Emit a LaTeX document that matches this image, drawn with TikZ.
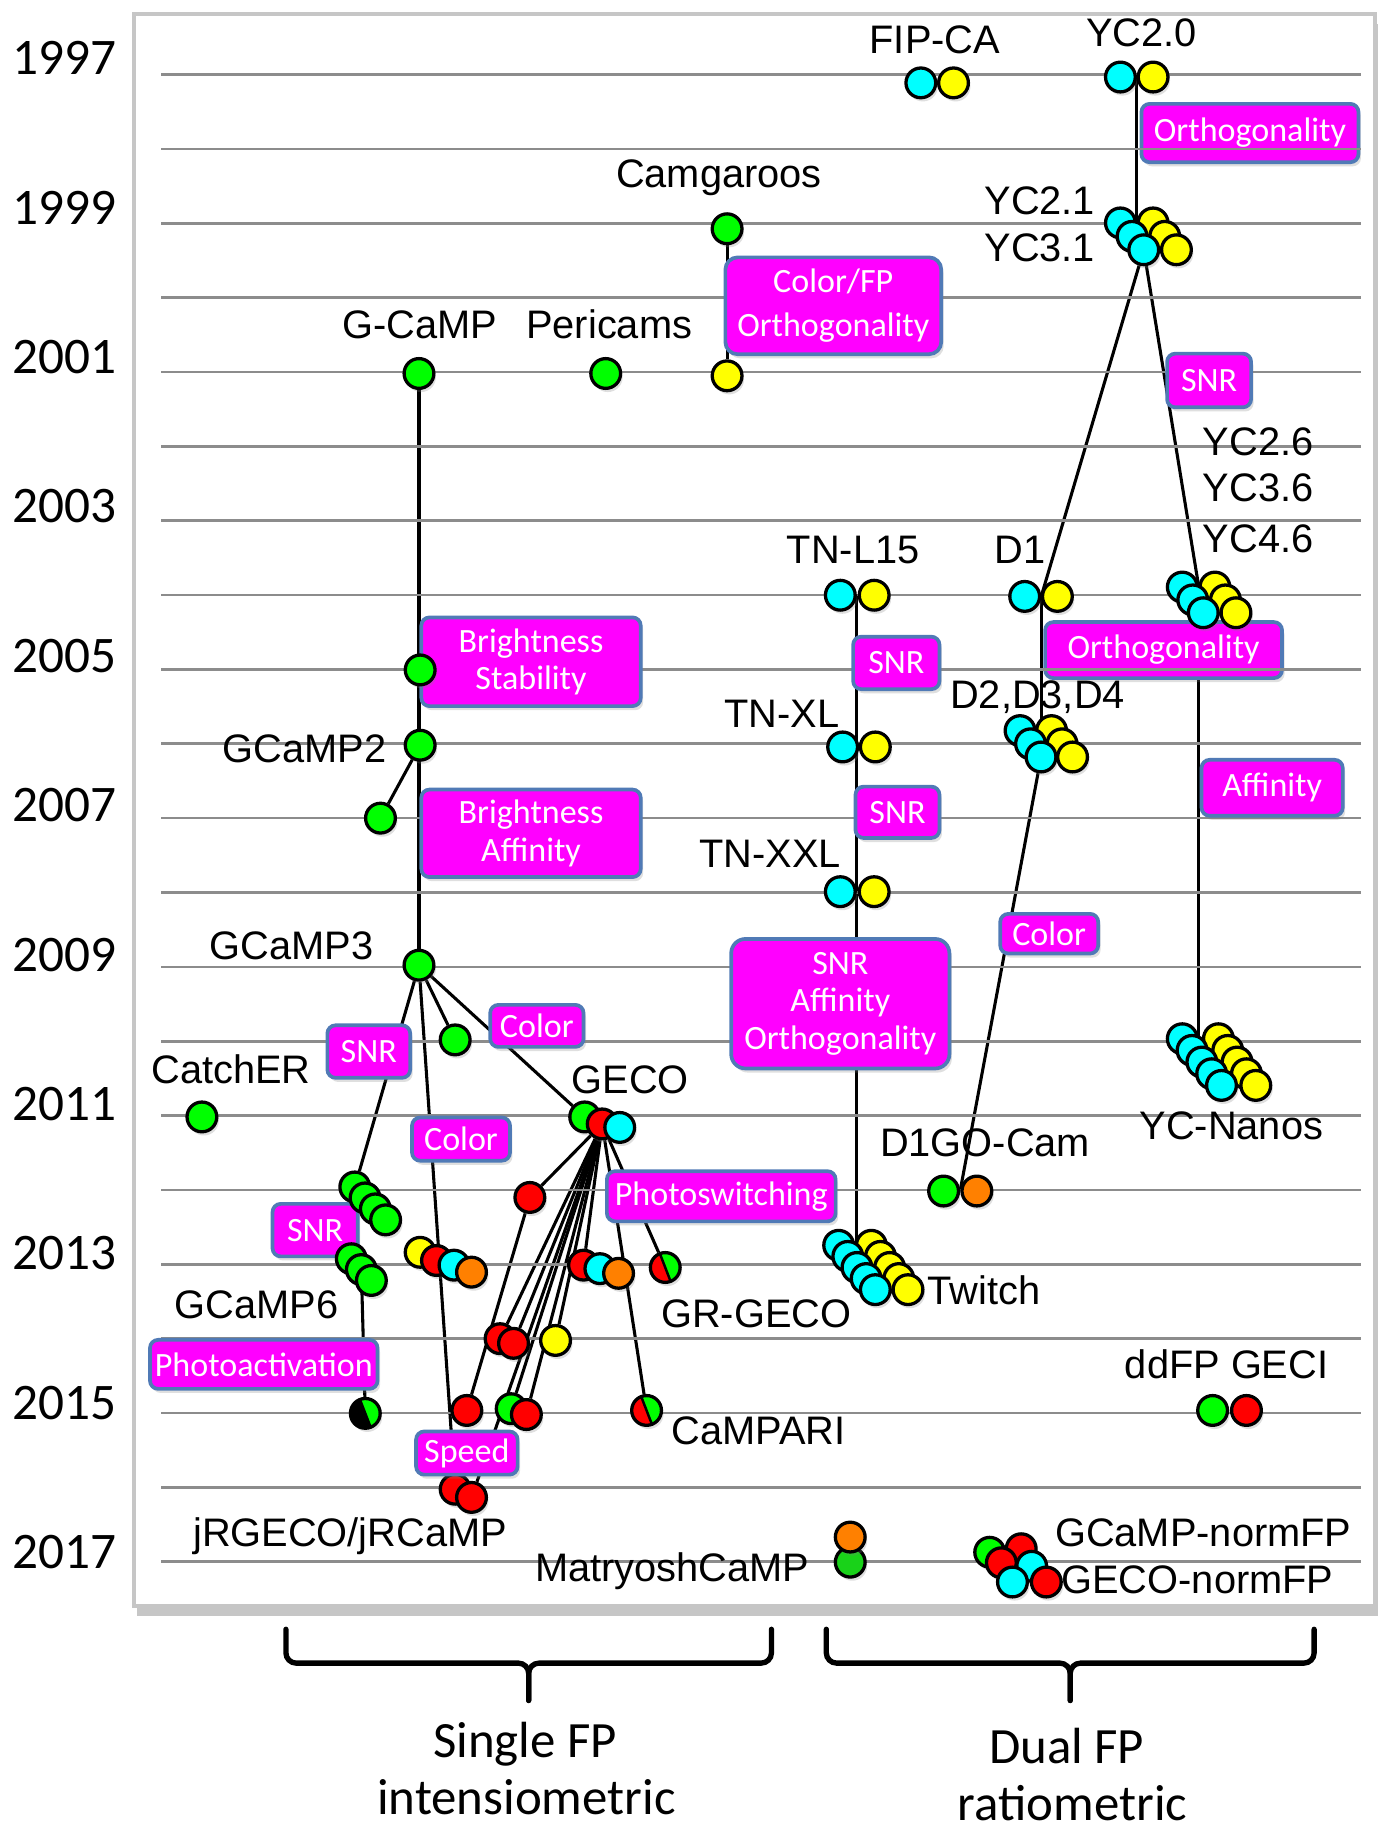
\documentclass[tikz,border=0pt]{standalone}
\usepackage{fontspec}
\setmainfont{Liberation Sans}
\newfontfamily\calib{Carlito}
\usepackage{xcolor}
\usetikzlibrary{shadows}

\definecolor{fpgreen}{RGB}{0,255,0}
\definecolor{fpdkgreen}{RGB}{25,210,25}
\definecolor{fpcyan}{RGB}{0,255,255}
\definecolor{fpyellow}{RGB}{255,255,0}
\definecolor{fpred}{RGB}{255,0,0}
\definecolor{fporange}{RGB}{255,128,0}
\definecolor{featmag}{RGB}{255,0,255}
\definecolor{featedge}{RGB}{80,122,182}
\definecolor{rulegray}{RGB}{140,140,140}

\pgfdeclarelayer{frame}
\pgfdeclarelayer{edges}
\pgfdeclarelayer{under}
\pgfdeclarelayer{rules}
\pgfsetlayers{frame,edges,under,rules,main}

\begin{document}
\begin{tikzpicture}[x=0.1mm, y=-0.1mm,
    fp/.style={circle, draw=black, line width=0.8pt, fill=#1,
      minimum size=2.55mm, inner sep=0pt,
      drop shadow={opacity=0.25, shadow xshift=0.5pt, shadow yshift=-0.9pt}},
    halves/.style 2 args={fp=#2, path picture={
      \fill[#1] (path picture bounding box.north west)
        -- ([xshift=-1.4pt]path picture bounding box.north)
        -- ([xshift=1.4pt]path picture bounding box.south)
        -- (path picture bounding box.south west) -- cycle;
      \draw[line width=0.6pt] ([xshift=-1.4pt]path picture bounding box.north)
        -- ([xshift=1.4pt]path picture bounding box.south);}},
    featbox/.style 2 args={rectangle, rounded corners=2pt, fill=featmag,
      draw=featedge, line width=0.9pt, text=white, align=center, inner sep=0pt,
      minimum width=#1mm, minimum height=#2mm,
      font=\calib\fontsize{8.3}{9.1}\selectfont,
      drop shadow={opacity=0.25, shadow xshift=0.6pt, shadow yshift=-1pt}},
    lbl/.style={font=\fontsize{9.7}{11}\selectfont, inner sep=0pt, anchor=base},
    yearlbl/.style={font=\calib\fontsize{12.5}{14}\selectfont, inner sep=0pt, anchor=base},
    grouplbl/.style={font=\calib\fontsize{12.4}{14}\selectfont, inner sep=0pt, anchor=base},
    conn/.style={line width=0.75pt, black},
    yearline/.style={rulegray, line width=0.65pt},
    bracebar/.style={line width=1.3pt, rounded corners=2.5pt, line cap=round}]

  \useasboundingbox (0,0) rectangle (1181,1568);

  \begin{pgfonlayer}{frame}
    \fill[white, draw=gray!45, line width=1pt,
      drop shadow={opacity=0.45, shadow xshift=0.8pt, shadow yshift=-2.5pt}]
      (115,12) rectangle (1178,1376);
  \end{pgfonlayer}

  \begin{pgfonlayer}{rules}
    \foreach \k in {0,...,20}
      \draw[yearline] (138,{64+63.7*\k}) -- (1166,{64+63.7*\k});
  \end{pgfonlayer}

  \foreach \y [count=\k from 0] in {1997,1999,...,2017}
    \node[yearlbl] (yr\y) at (55,{64+128*\k}) {\y};

  % features
  \begin{pgfonlayer}{under}
    \node[featbox={18.6}{5.0}] (orthoA) at (1071,114) {Orthogonality};
    \node[featbox={20.3}{4.8}] (orthoB) at (997,557) {Orthogonality};
  \end{pgfonlayer}
  \node[featbox={18.5}{8.3}, rounded corners=3pt] (colfp) at (714,262) {Color/FP\\[1.6pt]Orthogonality};
  \node[featbox={7.2}{4.6}] (snrA) at (1036,326) {SNR};
  \node[featbox={7.4}{4.5}] (snrB) at (768,568) {SNR};
  \node[featbox={7.2}{4.4}] (snrC) at (769,696) {SNR};
  \node[featbox={12.1}{4.8}] (affin) at (1090,675) {Affinity};
  \node[featbox={18.8}{7.6}] (brstab) at (455,567) {Brightness\\Stability};
  \node[featbox={18.8}{7.5}] (braff) at (455,714) {Brightness\\Affinity};
  \node[featbox={8.4}{3.4}] (colC) at (899,800) {Color};
  \node[featbox={18.7}{11.1}, rounded corners=3.5pt] (snraff) at (720,860) {SNR\\Affinity\\Orthogonality};
  \node[featbox={8.0}{3.6}] (colA) at (460,879) {Color};
  \node[featbox={7.1}{4.5}] (snrD) at (316,901) {SNR};
  \node[featbox={8.4}{3.7}] (colB) at (395,976) {Color};
  \node[featbox={19.6}{4.3}] (photosw) at (618,1025) {Photoswitching};
  \node[featbox={7.3}{4.5}] (snrE) at (270,1054) {SNR};
  \node[featbox={19.5}{4.2}] (photoact) at (226,1169) {Photoactivation};

  % sensors
  \node[fp=fpcyan] (fipC) at (789,71) {};
  \node[fp=fpyellow] (fipY) at (817,71) {};
  \node[fp=fpcyan] (yc20C) at (960,66) {};
  \node[fp=fpyellow] (yc20Y) at (988,66) {};
  \foreach \i in {0,1,2} {
    \node[fp=fpcyan] (yc21C\i) at ({960+10*\i},{191+11.5*\i}) {};
    \node[fp=fpyellow] (yc21Y\i) at ({988+10*\i},{191+11.5*\i}) {};
  }
  \node[fp=fpgreen] (camgG) at (623,196) {};
  \node[fp=fpyellow] (camgY) at (623,322) {};
  \node[fp=fpgreen] (gcamp) at (359,320) {};
  \node[fp=fpgreen] (peri) at (519,320) {};
  \foreach \i in {0,1,2} {
    \node[fp=fpcyan] (yc26C\i) at ({1013+9*\i},{503+11*\i}) {};
    \node[fp=fpyellow] (yc26Y\i) at ({1041+9*\i},{503+11*\i}) {};
  }
  \node[fp=fpcyan] (tnl15C) at (720,510) {};
  \node[fp=fpyellow] (tnl15Y) at (749,510) {};
  \node[fp=fpcyan] (d1C) at (878,511) {};
  \node[fp=fpyellow] (d1Y) at (906,511) {};
  \foreach \i in {0,1,2} {
    \node[fp=fpcyan] (d2C\i) at ({874+9*\i},{626+11.3*\i}) {};
    \node[fp=fpyellow] (d2Y\i) at ({901+9*\i},{626+11.3*\i}) {};
  }
  \node[fp=fpcyan] (tnxlC) at (722,640) {};
  \node[fp=fpyellow] (tnxlY) at (750,640) {};
  \node[fp=fpcyan] (tnxxlC) at (720,764) {};
  \node[fp=fpyellow] (tnxxlY) at (749,764) {};
  \foreach \i in {0,...,4} {
    \node[fp=fpcyan] (ycnC\i) at ({1013+8.4*\i},{890+10*\i}) {};
    \node[fp=fpyellow] (ycnY\i) at ({1044+8*\i},{890+10*\i}) {};
  }
  \node[fp=fpgreen] (g05) at (360,574) {};
  \node[fp=fpgreen] (gcamp2) at (360,638.5) {};
  \node[fp=fpgreen] (g07) at (326,701) {};
  \node[fp=fpgreen] (gcamp3) at (359,827) {};
  \node[fp=fpgreen] (g10) at (390,891) {};
  \node[fp=fpgreen] (catcher) at (173,957) {};
  \node[fp=fpgreen] (gecoG) at (501,957) {};
  \node[fp=fpred] (gecoR) at (516,963) {};
  \node[fp=fpcyan] (gecoC) at (531,966) {};
  \foreach \i in {0,...,3}
    \node[fp=fpgreen] (g5\i) at ({304+8.8*\i},{1017+9.4*\i}) {};
  \node[fp=fpred] (r12) at (454,1026) {};
  \foreach \i in {0,1,2}
    \node[fp=fpgreen] (g6\i) at ({301+8.6*\i},{1078.5+9.3*\i}) {};
  \node[fp=fpyellow] (rcY) at (360,1073) {};
  \node[fp=fpred] (rcR) at (374,1080) {};
  \node[fp=fpcyan] (rcC) at (389,1084) {};
  \node[fp=fporange] (rcO) at (404,1090) {};
  \node[fp=fpred] (g13R) at (500,1084) {};
  \node[fp=fpcyan] (g13C) at (514,1087) {};
  \node[fp=fporange] (g13O) at (530,1091) {};
  \node[halves={fpred}{fpgreen}] (grgeco) at (570,1086) {};
  \node[fp=fpgreen] (d1goG) at (808.5,1020.5) {};
  \node[fp=fporange] (d1goO) at (837,1020.5) {};
  \foreach \i in {0,...,4} {
    \node[fp=fpcyan] (twC\i) at ({718.6+7.85*\i},{1067+9.5*\i}) {};
    \node[fp=fpyellow] (twY\i) at ({746.6+7.85*\i},{1067+9.5*\i}) {};
  }
  \node[fp=fpred] (r14a) at (428.5,1147) {};
  \node[fp=fpred] (r14b) at (440,1151) {};
  \node[fp=fpyellow] (y14) at (476,1148.5) {};
  \node[halves={black}{fpgreen}] (pagc) at (313,1211) {};
  \node[fp=fpred] (r15) at (400,1208.5) {};
  \node[fp=fpgreen] (g15) at (438,1207) {};
  \node[fp=fpred] (r15b) at (451,1212) {};
  \node[halves={fpred}{fpgreen}] (campari) at (554,1208.5) {};
  \node[fp=fpgreen] (ddG) at (1039,1208.5) {};
  \node[fp=fpred] (ddR) at (1068,1208.5) {};
  \node[fp=fpred] (jrA) at (390,1276) {};
  \node[fp=fpred] (jrB) at (404,1283) {};
  \node[fp=fpdkgreen] (matG) at (728.5,1338.5) {};
  \node[fp=fporange] (matO) at (728.5,1317) {};
  \node[fp=fpgreen] (nfG) at (848,1330) {};
  \node[fp=fpred] (nfR1) at (875,1327) {};
  \node[fp=fpred] (nfR2) at (858,1339) {};
  \node[fp=fpcyan] (nfC1) at (884,1342) {};
  \node[fp=fpcyan] (nfC2) at (867.5,1355.5) {};
  \node[fp=fpred] (nfR3) at (896.5,1355.5) {};

  \node[featbox={8.7}{3.7}] (speed) at (400,1245) {Speed};

  % lineage
  \begin{pgfonlayer}{edges}
    \draw[conn] (camgG) -- (camgY);
    \draw[conn] (gcamp) -- (gcamp3);
    \draw[conn] (gcamp2) -- (g07);
    \draw[conn] (gcamp3) -- (g50);
    \draw[conn] (g50) -- (g60);
    \draw[conn] (g61) -- (pagc);
    \draw[conn] (gcamp3) -- (g10);
    \draw[conn] (gcamp3) -- (gecoG);
    \draw[conn] (gcamp3) -- (jrA);
    \draw[conn] (gecoR) -- (r12) -- (r15);
    \foreach \t in {r14a,r14b,y14,jrB,g15,r15b,g13R,grgeco,campari}
      \draw[conn] (gecoR) -- (\t);
    \draw[conn] (yc20C.east) -- (yc21C0.east);
    \draw[conn] (yc21C2) -- (d1C.east);
    \draw[conn] (d1C.east) -- (d1C.east |- d2C0);
    \draw[conn] (d2C2) -- (d1goG.east);
    \draw[conn] (yc21C2) -- (yc26C0.east);
    \draw[conn] (yc26C0.east) -- (ycnC0.east);
    \draw[conn] (tnl15C.east) -- (tnl15C.east |- twC0);
  \end{pgfonlayer}

  % names
  \node[lbl] (fipL) at (801,46) {FIP-CA};
  \node[lbl] (yc20L) at (978,40) {YC2.0};
  \node[lbl] (camgL) at (616,161) {Camgaroos};
  \node[lbl, anchor=base east] (yc21L) at (939,184) {YC2.1};
  \node[lbl, anchor=base east] (yc31L) at (939,224) {YC3.1};
  \node[lbl] (gcampL) at (360,290) {G-CaMP};
  \node[lbl] (periL) at (522,290) {Pericams};
  \node[lbl, anchor=base west] (yc26L) at (1030,390) {YC2.6};
  \node[lbl, anchor=base west] (yc36L) at (1030,430) {YC3.6};
  \node[lbl, anchor=base west] (yc46L) at (1030,473) {YC4.6};
  \node[lbl] (tnl15L) at (731,483) {TN-L15};
  \node[lbl] (d1L) at (874,483) {D1};
  \node[lbl] (d2L) at (889,607) {D2,D3,D4};
  \node[lbl] (tnxlL) at (670,623) {TN-XL};
  \node[lbl] (gcamp2L) at (261,653) {GCaMP2};
  \node[lbl] (tnxxlL) at (660,743) {TN-XXL};
  \node[lbl] (gcamp3L) at (250,822) {GCaMP3};
  \node[lbl] (catchL) at (198,928) {CatchER};
  \node[lbl] (gecoL) at (540,937) {GECO};
  \node[lbl] (ycnL) at (1055,976) {YC-Nanos};
  \node[lbl] (d1goL) at (844,991) {D1GO-Cam};
  \node[lbl] (twL) at (843,1118) {Twitch};
  \node[lbl] (gcamp6L) at (220,1130) {GCaMP6};
  \node[lbl] (grgL) at (648,1137) {GR-GECO};
  \node[lbl] (ddL) at (1051,1181) {ddFP GECI};
  \node[lbl] (campL) at (650,1238) {CaMPARI};
  \node[lbl] (jrL) at (300,1325) {jRGECO/jRCaMP};
  \node[lbl] (nfgL) at (1031,1325) {GCaMP-normFP};
  \node[lbl] (matL) at (576,1355) {MatryoshCaMP};
  \node[lbl] (nfrL) at (1026,1365) {GECO-normFP};

  % groups
  \draw[bracebar] (245,1396) |- (453,1425) -- (453,1457);
  \draw[bracebar] (661,1396) |- (453,1425) -- (453,1457);
  \draw[bracebar] (708,1396) |- (917,1425) -- (917,1457);
  \draw[bracebar] (1126,1396) |- (917,1425) -- (917,1457);
  \node[grouplbl] (singleA) at (450,1506) {Single FP};
  \node[grouplbl] (singleB) at (451,1555) {intensiometric};
  \node[grouplbl] (dualA) at (914,1511) {Dual FP};
  \node[grouplbl] (dualB) at (919,1560) {ratiometric};
\end{tikzpicture}
\end{document}
